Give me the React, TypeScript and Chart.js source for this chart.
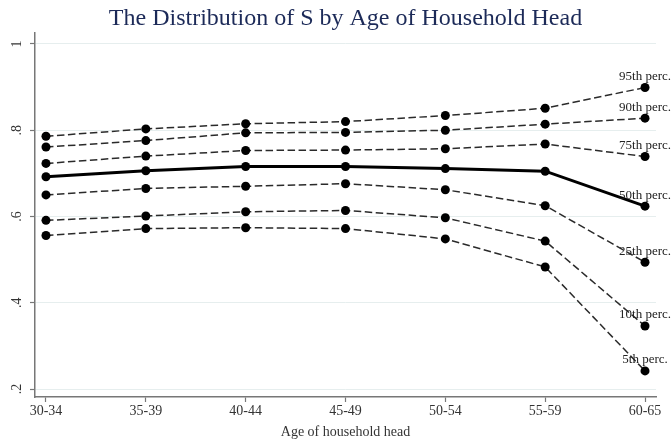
import React, { useEffect, useRef } from 'react';
import { Chart, registerables } from 'chart.js';

Chart.register(...registerables);

const categories = ['30-34', '35-39', '40-44', '45-49', '50-54', '55-59', '60-65'];
const p95 = [0.786, 0.803, 0.815, 0.82, 0.834, 0.851, 0.899];
const p90 = [0.761, 0.776, 0.794, 0.795, 0.8, 0.814, 0.828];
const p75 = [0.723, 0.74, 0.753, 0.754, 0.757, 0.768, 0.739];
const p50 = [0.692, 0.706, 0.716, 0.716, 0.711, 0.705, 0.624];
const p25 = [0.65, 0.665, 0.67, 0.676, 0.662, 0.625, 0.494];
const p10 = [0.591, 0.601, 0.611, 0.614, 0.597, 0.543, 0.346];
const p5 = [0.556, 0.572, 0.574, 0.572, 0.548, 0.483, 0.242];
const seriesNames = ['95th perc.', '90th perc.', '75th perc.', '50th perc.', '25th perc.', '10th perc.', '5th perc.'];
const yTickValues = [0.2, 0.4, 0.6, 0.8, 1];
const yTickLabels = ['.2', '.4', '.6', '.8', '1'];
const titleText = 'The Distribution of S by Age of Household Head';
const xTitleText = 'Age of household head';

const SERIF = '"Liberation Serif", "Times New Roman", serif';

const textPlugin = {
  id: 'textPlugin',
  afterDatasetsDraw(chart: any) {
    const ctx = chart.ctx;
    ctx.save();
    ctx.font = `13px ${SERIF}`;
    ctx.fillStyle = '#222';
    ctx.textAlign = 'center';
    ctx.textBaseline = 'middle';
    chart.data.datasets.forEach((ds: any, i: number) => {
      const meta = chart.getDatasetMeta(i);
      const pt = meta.data[meta.data.length - 1];
      if (pt) ctx.fillText(ds.label, pt.x, pt.y - 11);
    });
    ctx.restore();
  },
  afterDraw(chart: any) {
    const ctx = chart.ctx;
    const area = chart.chartArea;
    const cx = (area.left + area.right) / 2;
    ctx.save();
    ctx.textAlign = 'center';
    ctx.textBaseline = 'middle';
    ctx.font = `24px ${SERIF}`;
    ctx.fillStyle = '#1c2a58';
    ctx.fillText(titleText, cx, 19);
    ctx.font = `14px ${SERIF}`;
    ctx.fillStyle = '#333';
    ctx.fillText(xTitleText, cx, 432);
    const ys = chart.scales.y;
    yTickValues.forEach((v, i) => {
      const y = ys.getPixelForValue(v);
      ctx.save();
      ctx.translate(17, y);
      ctx.rotate(-Math.PI / 2);
      ctx.fillText(yTickLabels[i], 0, 0);
      ctx.restore();
    });
    ctx.restore();
  },
};

export default function App() {
  const ref = useRef<HTMLCanvasElement | null>(null);
  useEffect(() => {
    if (!ref.current) return;
    const all = [p95, p90, p75, p50, p25, p10, p5];
    const datasets = all.map((arr, i) => {
      const median = i === 3;
      return {
        label: seriesNames[i],
        data: arr.map((v, j) => ({ x: j, y: v })),
        borderColor: median ? '#000' : '#2a2a2a',
        borderWidth: median ? 3 : 1.5,
        borderDash: median ? [] : [7.5, 3.5],
        pointRadius: 4.5,
        pointBackgroundColor: '#000',
        pointBorderColor: '#000',
        pointBorderWidth: 0,
        tension: 0,
        fill: false,
      };
    });
    const chart = new Chart(ref.current, {
      type: 'line',
      data: { datasets },
      options: {
        animation: false,
        responsive: false,
        layout: { padding: { top: 33, right: 16, left: 0, bottom: 0 } },
        plugins: { legend: { display: false }, tooltip: { enabled: false }, title: { display: false } },
        scales: {
          x: {
            type: 'linear',
            min: -0.11,
            max: 6.11,
            afterBuildTicks: (s: any) => {
              s.ticks = categories.map((_, i) => ({ value: i }));
            },
            afterFit: (s: any) => {
              s.height = 47;
            },
            ticks: {
              autoSkip: false,
              maxRotation: 0,
              minRotation: 0,
              padding: 1,
              color: '#333',
              font: { family: SERIF, size: 14 },
              callback: (v: any) => categories[v as number] ?? '',
            },
            grid: { drawOnChartArea: false, drawTicks: true, tickLength: 5, tickColor: '#777', tickWidth: 1.2 },
            border: { display: true, color: '#777', width: 1.5 },
          },
          y: {
            type: 'linear',
            min: 0.1815,
            max: 1.0254,
            afterBuildTicks: (s: any) => {
              s.ticks = yTickValues.map((v) => ({ value: v }));
            },
            afterFit: (s: any) => {
              s.width = 35;
            },
            ticks: { display: false },
            grid: { color: '#e6eeee', lineWidth: 1, drawTicks: true, tickLength: 5, tickColor: '#777', tickWidth: 1.2 },
            border: { display: true, color: '#777', width: 1.5 },
          },
        },
      },
      plugins: [textPlugin],
    });
    return () => chart.destroy();
  }, []);
  return (
    <div style={{ position: 'fixed', left: 0, top: 0, width: 672, height: 444, background: '#fff' }}>
      <canvas ref={ref} width={672} height={444} style={{ display: 'block' }} />
    </div>
  );
}
